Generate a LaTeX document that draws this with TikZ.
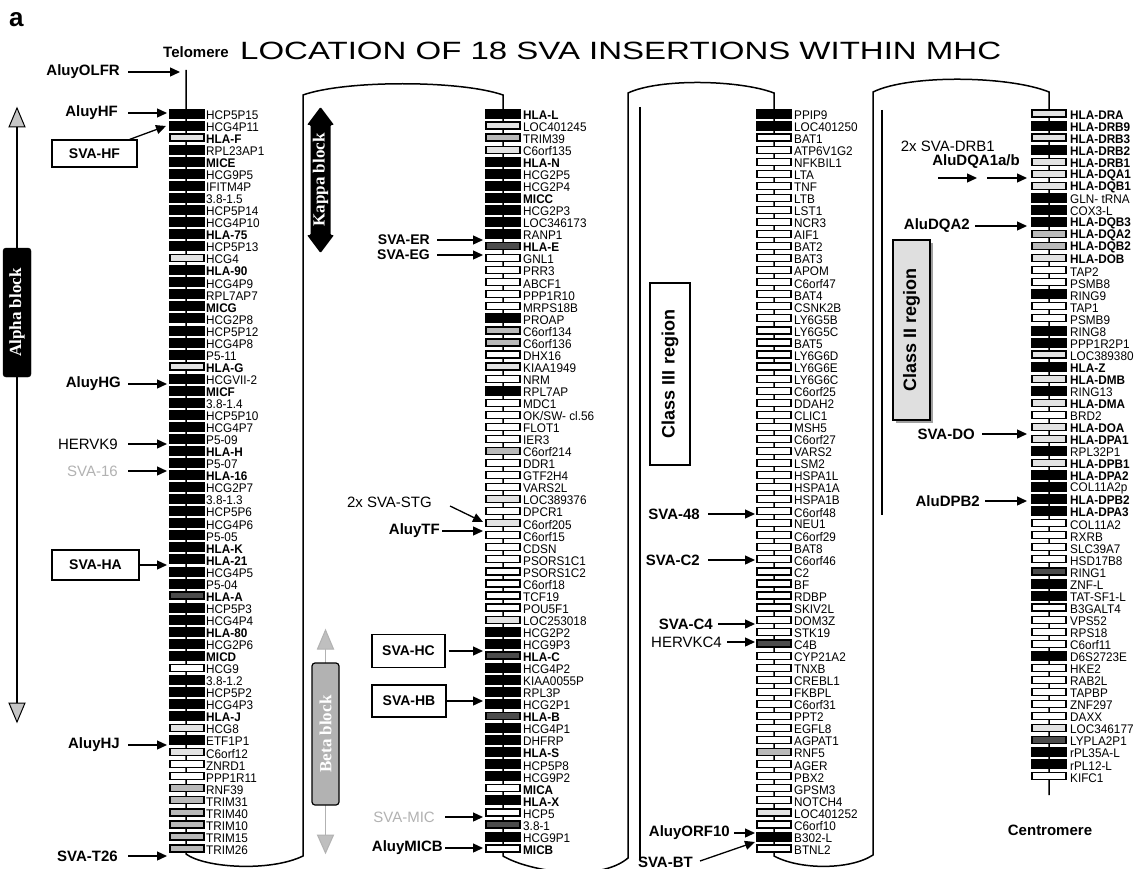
\documentclass[tikz,border=0pt]{standalone}
\usepackage{fontspec}
\setmainfont{Liberation Sans}
\newfontfamily\blockfont{Liberation Serif}
\usetikzlibrary{arrows.meta}
\newcommand\oksw{OK/SW- cl.56}
\newcommand\gsz{\fontsize{12.5}{12.5}\selectfont}
\newcommand\ssz{\fontsize{15}{15}\selectfont}
\newcommand\cond[1]{\scalebox{0.94}[1]{#1}}
\begin{document}
\begin{tikzpicture}[x=1pt,y=-1pt,
  frame/.style={line width=1.5pt},
  gB/.style={draw=black,fill=black,minimum width=35pt,minimum height=9pt,inner sep=0pt,line width=0.8pt},
  gW/.style={draw=black,fill=white,minimum width=34pt,minimum height=7pt,inner sep=0pt,line width=1.2pt},
  gL/.style={gW,fill=gray!22},
  gG/.style={gW,fill=gray!55},
  gD/.style={gW,fill=black!70,line width=1.6pt},
  labn/.style={anchor=west,inner sep=0pt,font=\gsz},
  labb/.style={labn,font=\gsz\bfseries},
  sideb/.style={anchor=east,inner sep=0pt,font=\ssz\bfseries},
  sider/.style={anchor=east,inner sep=0pt,font=\ssz},
  svabox/.style={draw,line width=1.1pt,inner sep=0pt,font=\fontsize{14}{14}\selectfont\bfseries},
  arr/.style={line width=1.3pt,-{Triangle[length=10pt,width=9pt]}},
  blk/.style={rotate=90,inner sep=0pt,font=\blockfont\bfseries\fontsize{17}{17}\selectfont},
]
\useasboundingbox (0,0) rectangle (1142,869);
\fill[white] (0,0) rectangle (1142,869);

% title
\node[anchor=base west,inner sep=0pt,font=\bfseries\fontsize{26}{26}\selectfont] (lbl-a) at (9,27) {a};
\node[anchor=west,inner sep=0pt] (title) at (240,51) {\scalebox{1.32}[1]{\fontsize{25}{25}\selectfont LOCATION OF 18 SVA INSERTIONS WITHIN MHC}};
\node[inner sep=0pt,font=\ssz\bfseries] (telo) at (196,52) {Telomere};
\node[inner sep=0pt,font=\ssz\bfseries] (centro) at (1050,830) {Centromere};

% chromosome outline
\draw[frame] (186,70) -- (186,854) .. controls (205,868) and (270,872) .. (303,856)
  -- (303,95) .. controls (345,80) and (460,80) .. (503,95) -- (503,856)
  .. controls (530,872) and (600,882) .. (628,858)
  -- (628,93) .. controls (660,78) and (740,80) .. (774,93) -- (774,856)
  .. controls (800,870) and (850,870) .. (873,855)
  -- (873,92) .. controls (910,74) and (1010,76) .. (1049,92) -- (1049,795);
\draw[frame] (640,107) -- (640,860);
\draw[frame] (882,110) -- (882,515);

% Alpha block
\draw[line width=1.5pt] (17,125) -- (17,705);
\filldraw[fill=gray!45,draw=black,line width=1pt] (17,108) -- (9,127) -- (25,127) -- cycle;
\filldraw[fill=gray!45,draw=black,line width=1pt] (17,722) -- (9,703) -- (25,703) -- cycle;
\node[blk,fill=black,draw=black,rounded corners=3pt,minimum width=129pt,minimum height=28pt,text=white] (alpha) at (17,312.5) {Alpha block};

% Kappa block
\fill[black,rounded corners=1pt] (320.5,107) -- (334,125) -- (330.5,125) -- (330.5,235) -- (334,235) -- (320.5,253) -- (307,235) -- (310.5,235) -- (310.5,125) -- (307,125) -- cycle;
\node[blk,text=white] (kappa) at (320.5,180) {Kappa block};

% Beta block
\draw[gray!60,line width=1.5pt] (325.5,648) -- (325.5,663) (325.5,805) -- (325.5,836);
\filldraw[fill=gray!50,draw=gray!60,line width=1pt] (325.5,630) -- (317.5,649) -- (333.5,649) -- cycle;
\filldraw[fill=gray!50,draw=gray!60,line width=1pt] (325.5,853) -- (317.5,835) -- (333.5,835) -- cycle;
\node[blk,fill=gray!60,draw=black,line width=1.2pt,rounded corners=3pt,minimum width=142pt,minimum height=27pt,text=white] (beta) at (325.5,734) {Beta block};

% Class III / Class II
\node[draw,line width=1.1pt,fill=white,rotate=90,inner sep=0pt,minimum width=182pt,minimum height=40pt,font=\bfseries\fontsize{18}{18}\selectfont] (c3) at (670,374) {Class III region};
\fill[gray!75] (896,243) rectangle (933,423);
\node[draw,line width=1.1pt,fill=gray!25,rotate=90,inner sep=0pt,minimum width=180pt,minimum height=37pt,font=\bfseries\fontsize{18}{18}\selectfont] (c2) at (911.5,330) {Class II region};

% column 1
\foreach \s/\l/\f [count=\i] in {gB/HCP5P15/n, gB/HCG4P11/n, gL/HLA-F/b, gB/RPL23AP1/n, gB/MICE/b, gB/HCG9P5/n, gB/IFITM4P/n, gB/3.8-1.5/n, gB/HCP5P14/n, gB/HCG4P10/n, gB/HLA-75/b, gB/HCP5P13/n, gL/HCG4/n, gB/HLA-90/b, gB/HCG4P9/n, gB/RPL7AP7/n, gB/MICG/b, gB/HCG2P8/n, gB/HCP5P12/n, gB/HCG4P8/n, gB/P5-11/n, gL/HLA-G/b, gB/HCGVII-2/n, gB/MICF/b, gB/3.8-1.4/n, gB/HCP5P10/n, gB/HCG4P7/n, gB/P5-09/n, gB/HLA-H/b, gB/P5-07/n, gB/HLA-16/b, gB/HCG2P7/n, gB/3.8-1.3/n, gB/HCP5P6/n, gB/HCG4P6/n, gB/P5-05/n, gB/HLA-K/b, gB/HLA-21/b, gB/HCG4P5/n, gB/P5-04/n, gD/HLA-A/b, gB/HCP5P3/n, gB/HCG4P4/n, gB/HLA-80/b, gB/HCG2P6/n, gB/MICD/b, gW/HCG9/n, gB/3.8-1.2/n, gB/HCP5P2/n, gB/HCG4P3/n, gB/HLA-J/b, gL/HCG8/n, gB/ETF1P1/n, gL/C6orf12/n, gW/ZNRD1/n, gW/PPP1R11/n, gG/RNF39/n, gG/TRIM31/n, gG/TRIM40/n, gG/TRIM10/n, gG/TRIM15/n, gG/TRIM26/n}{
  \edef\labst{lab\f}
  \node[\s] (g1-\i) at (187,{113.5+(\i-1)*12.05}) {};
  \node[\labst] (l1-\i) at (206,{115+(\i-1)*12.05}) {\cond{\l}};
}
% column 2
\foreach \s/\l/\f [count=\i] in {gB/HLA-L/b, gL/LOC401245/n, gG/TRIM39/n, gL/C6orf135/n, gB/HLA-N/b, gB/HCG2P5/n, gB/HCG2P4/n, gB/MICC/b, gB/HCG2P3/n, gB/LOC346173/n, gB/RANP1/n, gD/HLA-E/b, gW/GNL1/n, gW/PRR3/n, gW/ABCF1/n, gW/PPP1R10/n, gW/MRPS18B/n, gB/PROAP/n, gG/C6orf134/n, gG/C6orf136/n, gW/DHX16/n, gL/KIAA1949/n, gW/NRM/n, gB/RPL7AP/n, gW/MDC1/n, gW/\oksw/n, gW/FLOT1/n, gW/IER3/n, gG/C6orf214/n, gW/DDR1/n, gW/GTF2H4/n, gW/VARS2L/n, gL/LOC389376/n, gW/DPCR1/n, gL/C6orf205/n, gW/C6orf15/n, gW/CDSN/n, gW/PSORS1C1/n, gW/PSORS1C2/n, gW/C6orf18/n, gW/TCF19/n, gW/POU5F1/n, gL/LOC253018/n, gB/HCG2P2/n, gB/HCG9P3/n, gD/HLA-C/b, gB/HCG4P2/n, gB/KIAA0055P/n, gB/RPL3P/n, gB/HCG2P1/n, gD/HLA-B/b, gB/HCG4P1/n, gB/DHFRP/n, gB/HLA-S/b, gB/HCP5P8/n, gB/HCG9P2/n, gW/MICA/b, gB/HLA-X/b, gW/HCP5/n, gD/3.8-1/n, gB/HCG9P1/n, gW/MICB/b}{
  \edef\labst{lab\f}
  \node[\s] (g2-\i) at (503,{113.5+(\i-1)*12.05}) {};
  \node[\labst] (l2-\i) at (523,{115+(\i-1)*12.05}) {\cond{\l}};
}
% column 3
\foreach \s/\l/\f [count=\i] in {gB/PPIP9/n, gB/LOC401250/n, gW/BAT1/n, gW/ATP6V1G2/n, gW/NFKBIL1/n, gW/LTA/n, gW/TNF/n, gW/LTB/n, gW/LST1/n, gW/NCR3/n, gW/AIF1/n, gW/BAT2/n, gW/BAT3/n, gW/APOM/n, gW/C6orf47/n, gW/BAT4/n, gW/CSNK2B/n, gW/LY6G5B/n, gW/LY6G5C/n, gW/BAT5/n, gW/LY6G6D/n, gW/LY6G6E/n, gW/LY6G6C/n, gW/C6orf25/n, gW/DDAH2/n, gW/CLIC1/n, gW/MSH5/n, gW/C6orf27/n, gW/VARS2/n, gW/LSM2/n, gW/HSPA1L/n, gW/HSPA1A/n, gW/HSPA1B/n, gW/C6orf48/n, gW/NEU1/n, gW/C6orf29/n, gW/BAT8/n, gW/C6orf46/n, gW/C2/n, gW/BF/n, gW/RDBP/n, gW/SKIV2L/n, gW/DOM3Z/n, gW/STK19/n, gD/C4B/n, gW/CYP21A2/n, gW/TNXB/n, gW/CREBL1/n, gW/FKBPL/n, gW/C6orf31/n, gW/PPT2/n, gW/EGFL8/n, gW/AGPAT1/n, gG/RNF5/n, gW/AGER/n, gW/PBX2/n, gW/GPSM3/n, gW/NOTCH4/n, gL/LOC401252/n, gW/C6orf10/n, gB/B302-L/n, gW/BTNL2/n}{
  \edef\labst{lab\f}
  \node[\s] (g3-\i) at (774,{113.5+(\i-1)*12.05}) {};
  \node[\labst] (l3-\i) at (794,{115+(\i-1)*12.05}) {\cond{\l}};
}
% column 4
\foreach \s/\l/\f [count=\i] in {gL/HLA-DRA/b, gB/HLA-DRB9/b, gL/HLA-DRB3/b, gB/HLA-DRB2/b, gL/HLA-DRB1/b, gL/HLA-DQA1/b, gL/HLA-DQB1/b, gB/GLN- tRNA/n, gB/COX3-L/n, gB/HLA-DQB3/b, gG/HLA-DQA2/b, gG/HLA-DQB2/b, gL/HLA-DOB/b, gW/TAP2/n, gW/PSMB8/n, gB/RING9/n, gW/TAP1/n, gW/PSMB9/n, gB/RING8/n, gB/PPP1R2P1/n, gL/LOC389380/n, gB/HLA-Z/b, gL/HLA-DMB/b, gB/RING13/n, gL/HLA-DMA/b, gW/BRD2/n, gL/HLA-DOA/b, gL/HLA-DPA1/b, gB/RPL32P1/n, gL/HLA-DPB1/b, gB/HLA-DPA2/b, gB/COL11A2p/n, gB/HLA-DPB2/b, gB/HLA-DPA3/b, gW/COL11A2/n, gW/RXRB/n, gW/SLC39A7/n, gW/HSD17B8/n, gD/RING1/n, gB/ZNF-L/n, gB/TAT-SF1-L/n, gW/B3GALT4/n, gW/VPS52/n, gW/RPS18/n, gW/C6orf11/n, gB/D6S2723E/n, gW/HKE2/n, gW/RAB2L/n, gW/TAPBP/n, gW/ZNF297/n, gW/DAXX/n, gL/LOC346177/n, gD/LYPLA2P1/n, gB/rPL35A-L/n, gB/rPL12-L/n, gW/KIFC1/n}{
  \edef\labst{lab\f}
  \node[\s] (g4-\i) at (1049,{113.5+(\i-1)*12.05}) {};
  \node[\labst] (l4-\i) at (1070,{115+(\i-1)*12.05}) {\cond{\l}};
}

% insertion labels and arrows, column 1
\node[sideb] (s-olfr) at (120,72) {AluyOLFR};
\coordinate (t-olfr) at (180,72);
\draw[arr] ([xshift=8pt]s-olfr.east) -- (t-olfr);
\node[sideb] (s-hf) at (118,113) {AluyHF};
\coordinate (t-hf) at (167,113);
\draw[arr] ([xshift=10pt]s-hf.east) -- (t-hf);
\node[svabox,minimum width=85pt,minimum height=27pt] (b-hf) at (94.5,153.5) {SVA-HF};
\coordinate (t-svahf) at (166,126);
\draw[arr] ([xshift=-8pt]b-hf.north east) -- (t-svahf);
\node[sideb] (s-hg) at (121,384) {AluyHG};
\coordinate (t-hg) at (167,384);
\draw[arr] ([xshift=7pt]s-hg.east) -- (t-hg);
\node[sider] (s-herv) at (118,444) {HERVK9};
\coordinate (t-herv) at (167,444);
\draw[arr] ([xshift=10pt]s-herv.east) -- (t-herv);
\node[sider,text=gray!60] (s-16) at (118,471) {SVA-16};
\coordinate (t-16) at (167,471);
\draw[arr] ([xshift=10pt]s-16.east) -- (t-16);
\node[svabox,minimum width=87pt,minimum height=30pt] (b-ha) at (95.5,565) {SVA-HA};
\coordinate (t-ha) at (167,565);
\draw[arr] (b-ha.east) -- (t-ha);
\node[sideb] (s-hj) at (120,745) {AluyHJ};
\coordinate (t-hj) at (167,745);
\draw[arr] ([xshift=8pt]s-hj.east) -- (t-hj);
\node[sideb] (s-t26) at (118,856) {SVA-T26};
\coordinate (t-t26) at (167,856);
\draw[arr] ([xshift=10pt]s-t26.east) -- (t-t26);

% column 2
\node[sideb,font=\fontsize{14}{14}\selectfont\bfseries] (s-er) at (430,240) {SVA-ER};
\coordinate (t-er) at (483,240);
\draw[arr] ([xshift=7pt]s-er.east) -- (t-er);
\node[sideb,font=\fontsize{14}{14}\selectfont\bfseries] (s-eg) at (430,255) {SVA-EG};
\coordinate (t-eg) at (483,255);
\draw[arr] ([xshift=7pt]s-eg.east) -- (t-eg);
\node[sider] (s-stg) at (432,502) {2x SVA-STG};
\coordinate (t-stg) at (483,522);
\draw[arr] ([shift={(18pt,-4pt)}]s-stg.east) -- (t-stg);
\node[sideb] (s-tf) at (440,531) {AluyTF};
\coordinate (t-tf) at (483,531);
\draw[arr] ([xshift=2pt]s-tf.east) -- (t-tf);
\node[svabox,minimum width=73pt,minimum height=33pt] (b-hc) at (408.5,651) {SVA-HC};
\coordinate (t-hc) at (483,651);
\draw[arr] ([xshift=3pt]b-hc.east) -- (t-hc);
\node[svabox,minimum width=74pt,minimum height=32pt] (b-hb) at (409,701) {SVA-HB};
\coordinate (t-hb) at (483,701);
\draw[arr] (b-hb.east) -- (t-hb);
\node[sider,text=gray!60] (s-mic) at (435,817) {SVA-MIC};
\coordinate (t-mic) at (483,817);
\draw[arr] ([xshift=10pt]s-mic.east) -- (t-mic);
\node[sideb] (s-micb) at (443,848) {AluyMICB};
\coordinate (t-micb) at (483,848);
\draw[arr] ([xshift=2pt]s-micb.east) -- (t-micb);

% column 3
\node[sideb] (s-48) at (700,514) {SVA-48};
\coordinate (t-48) at (755,514);
\draw[arr] ([xshift=8pt]s-48.east) -- (t-48);
\node[sideb] (s-c2) at (700,560) {SVA-C2};
\coordinate (t-c2) at (755,560);
\draw[arr] ([xshift=8pt]s-c2.east) -- (t-c2);
\node[sideb] (s-c4) at (713,624) {SVA-C4};
\coordinate (t-c4) at (755,624);
\draw[arr] ([xshift=5pt]s-c4.east) -- (t-c4);
\node[sider] (s-hc4) at (722,642) {HERVKC4};
\coordinate (t-hc4) at (755,642);
\draw[arr] ([xshift=5pt]s-hc4.east) -- (t-hc4);
\node[sideb] (s-orf) at (730,833) {AluyORF10};
\coordinate (t-orf) at (755,833);
\draw[arr] ([xshift=4pt]s-orf.east) -- (t-orf);
\node[sideb] (s-bt) at (693,862) {SVA-BT};
\coordinate (t-bt) at (755,842);
\draw[arr] ([shift={(7pt,1pt)}]s-bt.east) -- (t-bt);

% column 4
\node[sider] (s-drb1) at (995,146) {2x SVA-DRB1};
\node[sideb] (s-dqa1) at (1020,162) {AluDQA1a/b};
\coordinate (a1s) at (938,178);
\coordinate (a1e) at (977,178);
\coordinate (a2s) at (987,178);
\coordinate (a2e) at (1027,178);
\draw[arr] (a1s) -- (a1e);
\draw[arr] (a2s) -- (a2e);
\node[sideb] (s-dqa2) at (970,226) {AluDQA2};
\coordinate (t-dqa2) at (1027,226);
\draw[arr] ([xshift=5pt]s-dqa2.east) -- (t-dqa2);
\node[sideb] (s-do) at (975,434) {SVA-DO};
\coordinate (t-do) at (1027,434);
\draw[arr] ([xshift=7pt]s-do.east) -- (t-do);
\node[sideb] (s-dpb2) at (980,501) {AluDPB2};
\coordinate (t-dpb2) at (1027,501);
\draw[arr] ([xshift=5pt]s-dpb2.east) -- (t-dpb2);
\end{tikzpicture}
\end{document}
